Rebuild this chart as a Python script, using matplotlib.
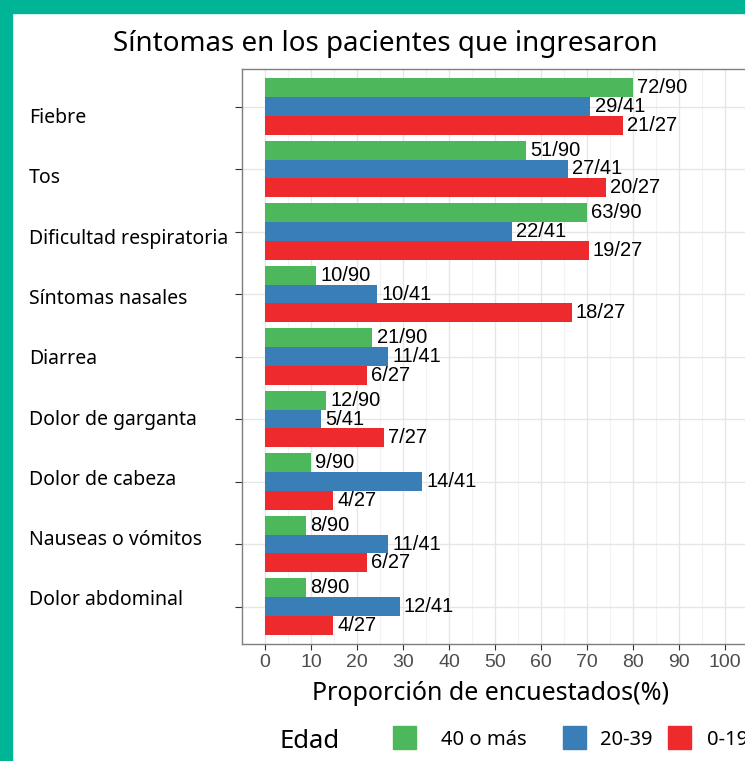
#!/usr/bin/env python3

import numpy as np
import matplotlib.pyplot as plt
from matplotlib.patches import Rectangle

sintomas = ["Fiebre", "Tos", "Dificultad respiratoria", "Síntomas nasales",
            "Diarrea", "Dolor de garganta", "Dolor de cabeza",
            "Nauseas o vómitos", "Dolor abdominal"]
grupos = ["40 o más", "20-39", "0-19"]
totales = [90, 41, 27]
casos_40 = [72, 51, 63, 10, 21, 12, 9, 8, 8]
casos_20 = [29, 27, 22, 10, 11, 5, 14, 11, 12]
casos_0 = [21, 20, 19, 18, 6, 7, 4, 6, 4]
colores = ["#4db85b", "#3a7eb8", "#ee2a2c"]
x_ticks = [0, 10, 20, 30, 40, 50, 60, 70, 80, 90, 100]

W, H = 745, 761


def main():
    fig = plt.figure(figsize=(W / 100, H / 100), dpi=100)
    fig.patch.set_facecolor("white")
    # teal frame at left and top
    fig.patches.append(Rectangle((0, 0), 12 / W, 1, transform=fig.transFigure,
                                 color="#00b496", zorder=10))
    fig.patches.append(Rectangle((0, 1 - 13 / H), 1, 13 / H, transform=fig.transFigure,
                                 color="#00b496", zorder=10))

    ax = fig.add_axes([242 / W, 1 - 644 / H, 506 / W, (644 - 69) / H])
    series = [casos_40, casos_20, casos_0]
    n = len(sintomas)
    y = np.arange(n)
    h = 0.3
    for i, (casos, tot, col) in enumerate(zip(series, totales, colores)):
        pct = np.array(casos) / tot * 100
        yy = y + (i - 1) * h
        ax.barh(yy, pct, height=h, color=col, zorder=3)
        for v, c, yp in zip(pct, casos, yy):
            ax.annotate(f"{c}/{tot}", (v, yp), xytext=(3, 0), textcoords="offset points",
                        va="center", ha="left", fontsize=14.5,
                        family="Liberation Sans", zorder=4)

    ax.set_xlim(-5, 105)
    ax.set_ylim(n - 0.4, -0.6)
    ax.set_xticks(x_ticks)
    ax.set_xticks(np.arange(5, 100, 10), minor=True)
    ax.set_xticklabels([str(t) for t in x_ticks], fontsize=14, color="#4d4d4d",
                       family="Liberation Sans")
    ax.set_yticks(y)
    ax.set_yticklabels([])
    ax.tick_params(axis="y", length=5, color="#333333")
    ax.tick_params(axis="x", length=4, color="#333333", pad=3)
    ax.tick_params(axis="x", which="minor", length=0)
    ax.grid(True, which="major", color="#e6e6e6", linewidth=1, zorder=0)
    ax.grid(True, which="minor", axis="x", color="#f2f2f2", linewidth=0.8, zorder=0)
    ax.set_axisbelow(True)
    for s in ax.spines.values():
        s.set_color("#7f7f7f")
        s.set_linewidth(1)

    # category labels (drawn beside the panel, slightly below each tick)
    for i, nombre in enumerate(sintomas):
        ypix = 118 + i * 60.3
        fig.text(29 / W, 1 - ypix / H, nombre, fontsize=14, family="Noto Sans",
                 va="center", ha="left")

    fig.text(385 / W, 1 - 44 / H, "Síntomas en los pacientes que ingresaron",
             fontsize=20, family="Noto Sans", ha="center", va="center")
    fig.text(490 / W, 1 - 694 / H, "Proporción de encuestados(%)",
             fontsize=18, family="Noto Sans", ha="center", va="center")

    # legend
    fig.text(280 / W, 1 - 741 / H, "Edad", fontsize=18.5, family="Noto Sans",
             ha="left", va="center")
    cajas = [393, 563, 668]
    textos = [441, 600, 707]
    for g, col, xb, xt in zip(grupos, colores, cajas, textos):
        fig.patches.append(Rectangle((xb / W, 1 - 749 / H), 23 / W, 23 / H,
                                     transform=fig.transFigure, color=col))
        fig.text(xt / W, 1 - 740 / H, g, fontsize=14.5, family="Noto Sans",
                 ha="left", va="center")

    fig.savefig("out.png", dpi=100)


if __name__ == "__main__":
    main()
